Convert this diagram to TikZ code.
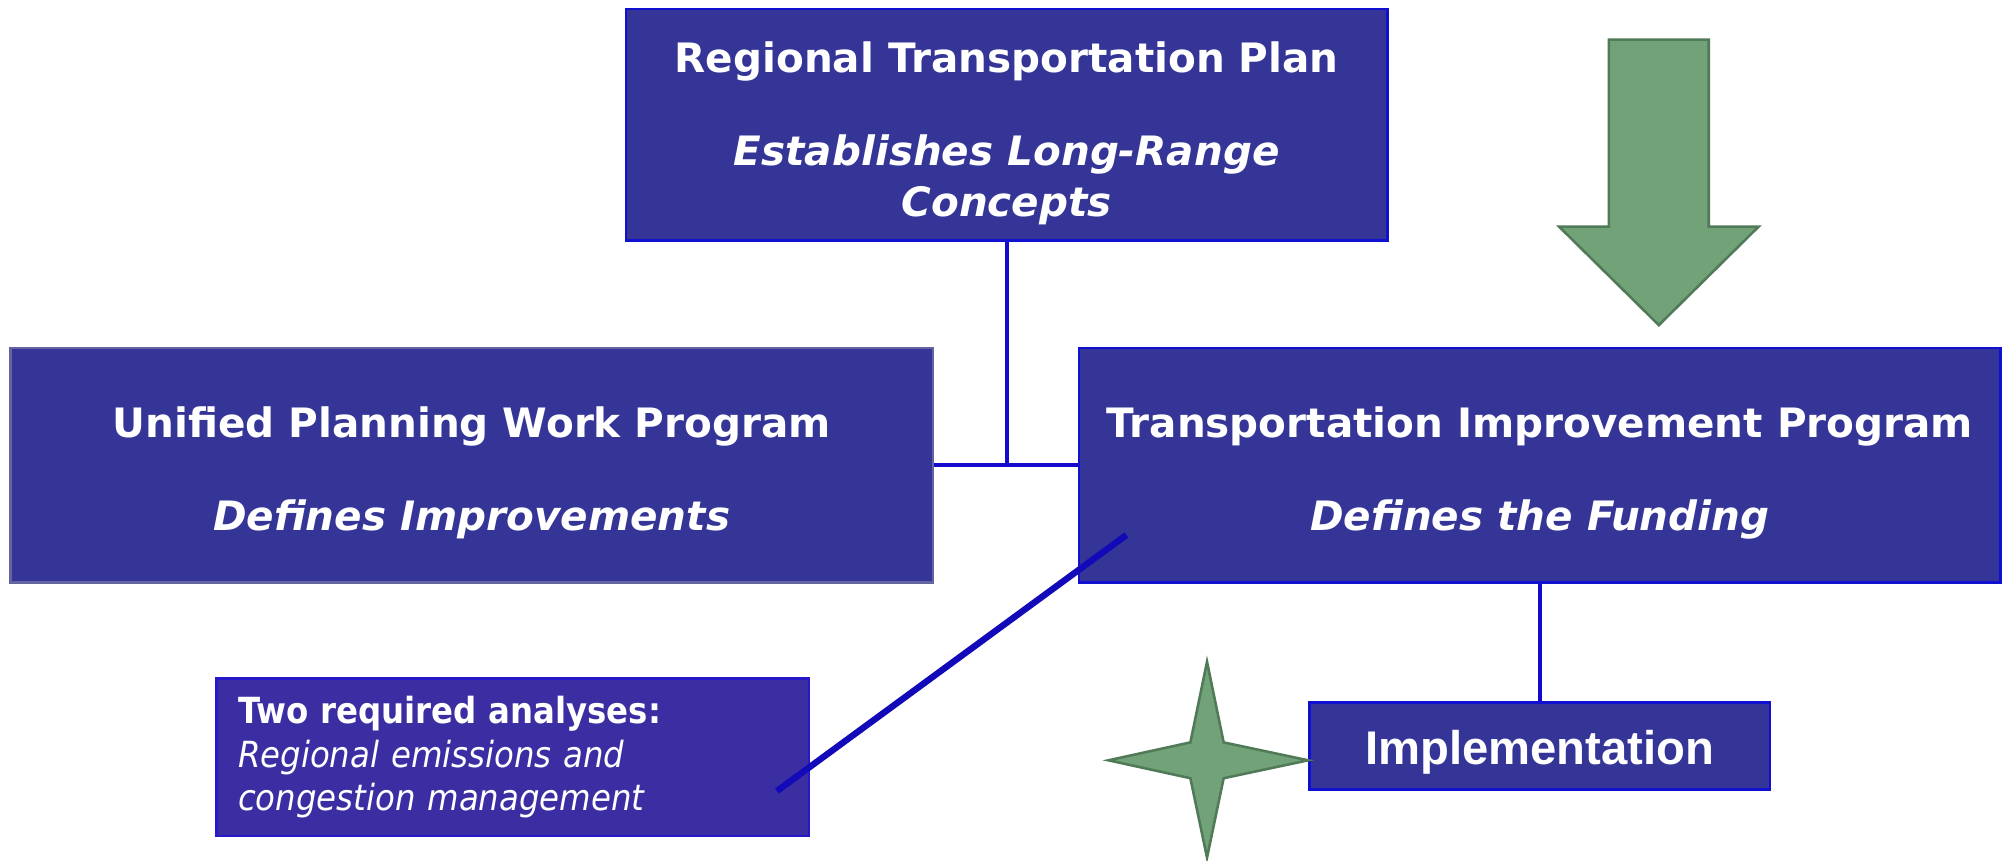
\documentclass[tikz,border=0pt]{standalone}
\usepackage{fontspec}
\setmainfont{DejaVu Sans}
\newfontfamily\condfont{DejaVu Sans Condensed}
\newfontfamily\narrowfont{Liberation Sans}
\newcommand\padtop[2]{\raisebox{0pt}[\dimexpr\height+#1\relax]{#2}}
\definecolor{boxfill}{RGB}{53,53,152}
\definecolor{boxline}{RGB}{16,16,208}
\definecolor{greyline}{RGB}{100,100,160}
\definecolor{notefill}{RGB}{59,46,163}
\definecolor{noteline}{RGB}{40,25,200}
\definecolor{linkblue}{RGB}{20,10,205}
\definecolor{greenfill}{RGB}{114,163,120}
\definecolor{greenline}{RGB}{80,122,88}

\begin{document}
\begin{tikzpicture}[
  x = 0.1mm, y = -0.1mm,
  plan/.style = {draw=boxline, fill=boxfill, line width=0.2mm, text=white, inner sep=0pt,
                 align=center, font=\bfseries\fontsize{9}{12.2}\selectfont},
  note/.style = {draw=noteline, fill=notefill, line width=0.2mm, text=white, inner sep=0pt,
                 align=left, text width=42.9mm, font=\condfont\fontsize{8}{9.6}\selectfont},
  link/.style = {draw=linkblue, line width=0.3mm},
  pointer/.style = {draw=linkblue!90!black, line width=0.5mm},
  greenshape/.style = {draw=greenline, fill=greenfill, line width=0.2mm, line join=miter},
  ]
  \useasboundingbox (0,0) rectangle (1568,672);

  \node[plan, minimum width=59.5mm, minimum height=18.1mm, font=\bfseries\fontsize{9}{11.4}\selectfont]
    (rtp) at (786.5,97.5)
    {\padtop{3.8pt}{Regional Transportation Plan}\\[9.4pt]{\itshape Establishes Long-Range}\\{\itshape Concepts}};
  \node[plan, draw=greyline, minimum width=72.1mm, minimum height=18.3mm] (upwp) at (368.5,363.5)
    {\padtop{3.4pt}{Unified Planning Work Program}\\[8.6pt]{\itshape Defines Improvements}};
  \node[plan, minimum width=72mm, minimum height=18.3mm] (tip) at (1203,363.5)
    {\padtop{3.4pt}{Transportation Improvement Program}\\[8.6pt]{\itshape Defines the Funding}};
  \node[plan, minimum width=36mm, minimum height=6.8mm, font=\narrowfont\bfseries\fontsize{10.5}{12}\selectfont]
    (impl) at (1203,583) {\padtop{2.5pt}{Implementation}};
  \node[note, minimum width=46.3mm, minimum height=12.3mm] (analyses) at (400.5,591.5)
    {{\bfseries Two required analyses:}\\{\itshape Regional emissions and}\\{\itshape congestion management}};

  \draw[link] (rtp.south) -- (rtp.south |- upwp.east);
  \draw[link] (upwp.east) -- (tip.west);
  \draw[link] (tip.south) -- (impl.north);

  \coordinate (tipmark) at (880,418);
  \coordinate (notemark) at (607,618);
  \draw[pointer] (tipmark) -- (notemark);

  \draw[greenshape] (1257,31) -- (1335,31) -- (1335,177) -- (1374,177) -- (1296,254)
    -- (1218,177) -- (1257,177) -- cycle;
  \draw[greenshape] (943,517) -- (956,580) -- (1022,594) -- (956,608) -- (943,670)
    -- (930,608) -- (866,594) -- (930,580) -- cycle;
\end{tikzpicture}
\end{document}
